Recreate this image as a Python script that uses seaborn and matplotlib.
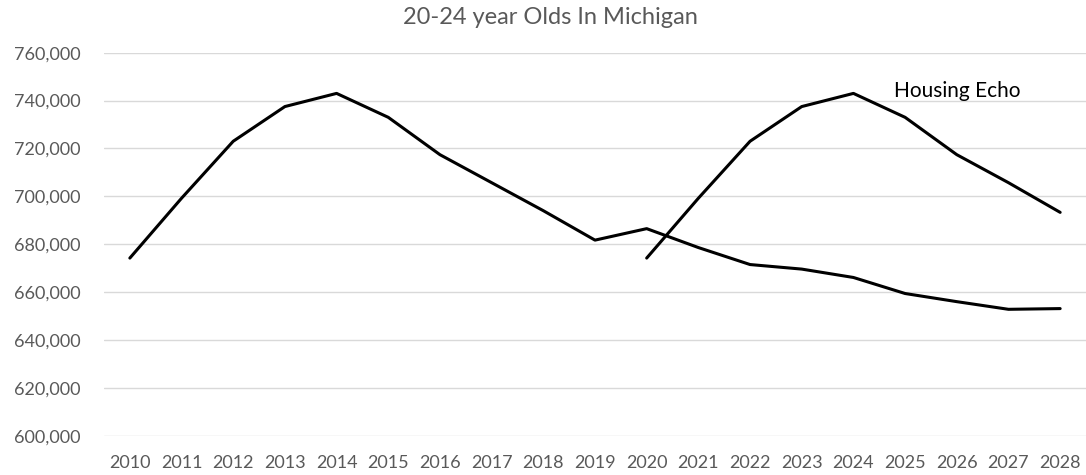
import pandas as pd
import numpy as np
import matplotlib
matplotlib.use('Agg')
import matplotlib.pyplot as plt
import seaborn as sns
from matplotlib.ticker import FuncFormatter

# data
years = list(range(2010, 2029))
michigan = [674200, 699200, 723000, 737500, 743000, 733000, 717400, 705700, 694000,
            681700, 686500, 678600, 671500, 669600, 666100, 659400, 656000, 652800, 653100]
echo_years = list(range(2020, 2029))
echo = [674200, 699200, 723000, 737500, 743000, 733000, 717400, 705700, 693300]

df = pd.concat([
    pd.DataFrame({'year': years, 'people': michigan, 'series': '20-24'}),
    pd.DataFrame({'year': echo_years, 'people': echo, 'series': 'echo'}),
])

sns.set_theme(style='white')
plt.rcParams['font.family'] = ['Lato', 'DejaVu Sans']

fig = plt.figure(figsize=(10.86, 4.75), dpi=100)
ax = fig.add_axes([104 / 1086, 1 - 435.7 / 475, 1 - 104 / 1086, (435.7 - 52.7) / 475])

sns.lineplot(data=df, x='year', y='people', hue='series', units='series', estimator=None,
             palette=['black', 'black'], linewidth=2.2, legend=False, ax=ax)

ax.set_xlim(2009.5, 2028.5)
ax.set_ylim(600000, 760000)
ax.set_xticks(years)
ax.set_yticks(np.arange(600000, 760001, 20000))
ax.yaxis.set_major_formatter(FuncFormatter(lambda v, p: f'{int(v):,}'))
ax.grid(axis='y', color='#d9d9d9', linewidth=1)
ax.grid(axis='x', visible=False)
ax.set_axisbelow(True)
for s in ax.spines.values():
    s.set_visible(False)
ax.tick_params(axis='both', length=0, labelsize=13, labelcolor='#595959')
ax.tick_params(axis='y', pad=17)
ax.tick_params(axis='x', pad=14)
ax.set_xlabel('')
ax.set_ylabel('')

ax.text(2026.0, 744000, 'Housing Echo', ha='center', va='center', fontsize=15, color='black')
fig.text(550 / 1086, 1 - 18 / 475, '20-24 year Olds In Michigan', ha='center', va='center',
         fontsize=17, color='#595959')

fig.savefig('out.png', dpi=100)
